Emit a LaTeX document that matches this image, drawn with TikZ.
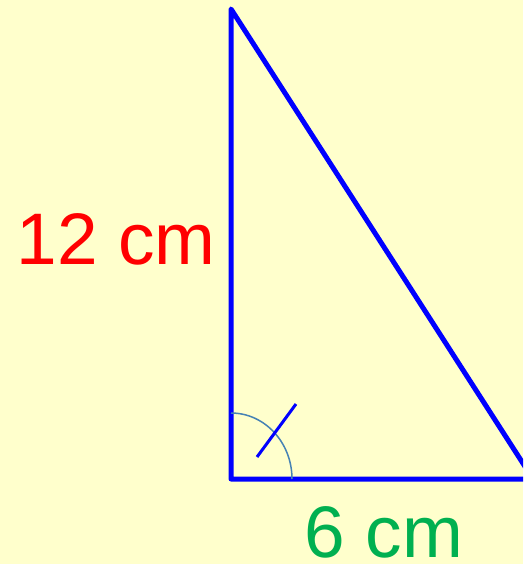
\documentclass[tikz,border=0pt]{standalone}
\usepackage{fontspec}
\setmainfont{Liberation Sans}
\definecolor{bg}{RGB}{255,255,204}
\definecolor{tri}{RGB}{0,0,255}
\definecolor{arcc}{RGB}{70,130,180}
\definecolor{grn}{RGB}{0,176,80}
\definecolor{rd}{RGB}{255,0,0}
\tikzset{
  side/.style={draw=tri, line width=5pt, line join=round},
  lab/.style={font=\fontsize{73}{80}\selectfont, anchor=base, inner sep=0pt, text depth=0pt},
}
\begin{document}
\begin{tikzpicture}[x=1pt,y=-1pt]
\fill[bg] (0,0) rectangle (523,564);
\useasboundingbox (0,0) rectangle (523,564);
\coordinate (A) at (231,9);
\coordinate (B) at (231,479);
\coordinate (C) at (533,479);
\begin{scope}
\clip (0,0) rectangle (523,564);
\draw[side] (A) -- (B) -- (C) -- cycle;
\end{scope}
\draw[arcc, line width=1.5pt] (292,479) arc[start angle=0, end angle=-90, x radius=61, y radius=66];
\coordinate (T1) at (257,457);
\coordinate (T2) at (296,404);
\draw[tri, line width=3pt] (T1) -- (T2);
\node[lab, text=rd] (L1) at (116,264) {12 cm};
\node[lab, text=grn] (L2) at (384,557) {6 cm};
\end{tikzpicture}
\end{document}
